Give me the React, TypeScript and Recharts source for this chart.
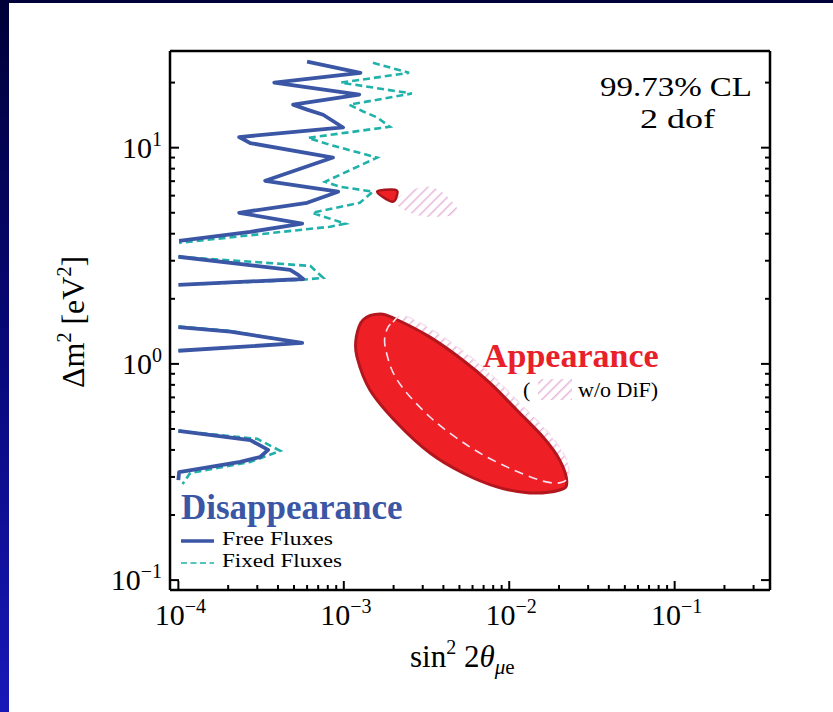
import React from 'react';
import { ScatterChart, Scatter, XAxis, YAxis } from 'recharts';

// sin^2(2theta), dm^2 pairs
const freeFluxUpper = [[6.0e-4, 25.0], [1.26e-3, 22.2], [3.8e-4, 20.0], [1.24e-3, 17.6], [4.94e-4, 15.8], [6.0e-4, 15.0], [7.5e-4, 14.2], [9.9e-4, 12.4], [2.33e-4, 11.2], [2.72e-4, 10.5], [8.6e-4, 9.0], [3.35e-4, 7.03], [9.24e-4, 6.26], [6.0e-4, 5.56], [2.33e-4, 5.0], [5.6e-4, 4.45], [2.72e-4, 4.08], [1.01e-4, 3.71]];
const freeFluxBand2 = [[1.0e-4, 3.13], [4.74e-4, 2.72], [5.3e-4, 2.58], [5.68e-4, 2.47], [1.0e-4, 2.32]];
const freeFluxBand3 = [[1.0e-4, 1.48], [2.06e-4, 1.41], [5.6e-4, 1.25], [1.0e-4, 1.15]];
const freeFluxBand4 = [[1.0e-4, 0.49], [2.72e-4, 0.444], [3.49e-4, 0.40], [3.12e-4, 0.371], [2.37e-4, 0.352], [1.01e-4, 0.316], [1.0e-4, 0.29]];

const fixedFluxUpper = [[1.5e-3, 24.7], [2.48e-3, 22.2], [9.6e-4, 20.0], [2.58e-3, 17.8], [1.08e-3, 15.8], [1.31e-3, 14.7], [1.59e-3, 13.8], [1.9e-3, 12.5], [6.09e-4, 11.1], [8.27e-4, 10.3], [1.59e-3, 9.0], [7.71e-4, 6.96], [9.5e-4, 6.6], [1.5e-3, 6.26], [1.25e-3, 5.56], [6.44e-4, 5.0], [1.02e-3, 4.45], [8.27e-4, 4.31], [1.01e-4, 3.63]];
const fixedFluxBand2 = [[1.0e-4, 3.13], [6.26e-4, 2.84], [7.5e-4, 2.5], [5.68e-4, 2.45], [1.0e-4, 2.32]];
const fixedFluxBand3 = [[1.0e-4, 1.49], [2.06e-4, 1.42], [5.5e-4, 1.25], [1.0e-4, 1.15]];
const fixedFluxBand4 = [[1.0e-4, 0.49], [3.0e-4, 0.45], [4.13e-4, 0.396], [2.72e-4, 0.352], [1.18e-4, 0.313], [1.06e-4, 0.278]];

const appearanceRegion = [[1.31e-3, 1.60], [1.66e-3, 1.70], [2.10e-3, 1.60], [3.32e-3, 1.33], [5.25e-3, 1.04], [7.64e-3, 0.817], [1.11e-2, 0.612], [1.60e-2, 0.459], [2.02e-2, 0.359], [2.23e-2, 0.284], [2.02e-2, 0.261], [1.33e-2, 0.253], [8.42e-3, 0.27], [5.25e-3, 0.313], [3.32e-3, 0.387], [2.10e-3, 0.533], [1.44e-3, 0.758], [1.20e-3, 1.08], [1.19e-3, 1.33]];
const appearanceIsland = [[1.59e-3, 6.26], [2.04e-3, 6.39], [2.10e-3, 6.06], [1.96e-3, 5.62]];
const noDifRegion = [[1.98e-3, 1.56], [2.31e-3, 1.67], [3.51e-3, 1.42], [5.55e-3, 1.11], [8.07e-3, 0.87], [1.17e-2, 0.653], [1.69e-2, 0.49], [2.17e-2, 0.375], [2.29e-2, 0.316], [2.11e-2, 0.284], [1.60e-2, 0.287], [9.67e-3, 0.334], [5.78e-3, 0.413], [3.32e-3, 0.568], [2.10e-3, 0.843], [1.78e-3, 1.2], [1.82e-3, 1.44]];
const noDifIsland = [[2.04e-3, 5.74], [3.01e-3, 6.6], [3.97e-3, 6.19], [4.9e-3, 5.0], [3.32e-3, 4.79], [2.44e-3, 5.06]];

const xDomain = [8.9e-5, 0.377];
const yDomain = [0.09, 28];
const xDecades = [1e-4, 1e-3, 1e-2, 1e-1];
const yDecades = [0.1, 1, 10];
const minorSteps = [1, 2, 3, 4, 5, 6, 7, 8, 9];

const SERIF = "'Liberation Serif', 'Times New Roman', serif";
const BLUE = '#3a56a5';
const TEAL = '#20b2aa';
const RED = '#ee2026';
const RED_EDGE = '#b3161d';
const PINK = '#e7b6db';

const buildTicks = (decades: number[], domain: number[]) =>
  decades
    .flatMap((d) => minorSteps.map((m) => m * d))
    .filter((v) => v >= domain[0] && v <= domain[1]);

const xTicks = buildTicks(xDecades, xDomain);
const yTicks = buildTicks(yDecades, yDomain);

const toPoints = (arr: number[][]) => arr.map(([x, y]) => ({ x, y }));

const isMajor = (v: number) => Math.abs(Math.log10(v) - Math.round(Math.log10(v))) < 1e-6;
const expLabel = (v: number) => {
  const e = Math.round(Math.log10(v));
  return e < 0 ? `\u2212${-e}` : `${e}`;
};

const straightPath = (pts: any[]) =>
  pts.map((p, i) => `${i ? 'L' : 'M'}${p.x},${p.y}`).join('');

// closed catmull-rom through the scaled points
const smoothClosedPath = (pts: any[]) => {
  const n = pts.length;
  if (!n) return '';
  let d = `M${pts[0].x},${pts[0].y}`;
  for (let i = 0; i < n; i++) {
    const p0 = pts[(i - 1 + n) % n];
    const p1 = pts[i];
    const p2 = pts[(i + 1) % n];
    const p3 = pts[(i + 2) % n];
    const c1x = p1.x + (p2.x - p0.x) / 6;
    const c1y = p1.y + (p2.y - p0.y) / 6;
    const c2x = p2.x - (p3.x - p1.x) / 6;
    const c2y = p2.y - (p3.y - p1.y) / 6;
    d += `C${c1x},${c1y} ${c2x},${c2y} ${p2.x},${p2.y}`;
  }
  return d + 'Z';
};

const contour = (style: any, smooth = false) => (props: any) => {
  const pts = props.points || [];
  const d = smooth ? smoothClosedPath(pts) : straightPath(pts);
  return <path d={d} {...style} />;
};

const NoDot = () => <g />;

const MAJOR_LEN = 9;
const MINOR_LEN = 5;

const BottomTick = (props: any) => {
  const { x, y, payload } = props;
  const major = isMajor(payload.value);
  return (
    <g>
      <line x1={x} x2={x} y1={y} y2={y - (major ? MAJOR_LEN : MINOR_LEN)} stroke="#000" strokeWidth={2} />
      {major && (
        <text x={x + 2} y={y + 35} textAnchor="middle" fontFamily={SERIF} fontSize={30} fill="#000">
          10<tspan dy={-12} fontSize={20}>{expLabel(payload.value)}</tspan>
        </text>
      )}
    </g>
  );
};

const TopTick = (props: any) => {
  const { x, y, payload } = props;
  const major = isMajor(payload.value);
  return <line x1={x} x2={x} y1={y} y2={y + (major ? MAJOR_LEN : MINOR_LEN)} stroke="#000" strokeWidth={2} />;
};

const LeftTick = (props: any) => {
  const { x, y, payload } = props;
  const major = isMajor(payload.value);
  return (
    <g>
      <line x1={x} x2={x + (major ? MAJOR_LEN : MINOR_LEN)} y1={y} y2={y} stroke="#000" strokeWidth={2} />
      {major && (
        <text x={x - 8} y={y + 10} textAnchor="end" fontFamily={SERIF} fontSize={30} fill="#000">
          10<tspan dy={-12} fontSize={20}>{expLabel(payload.value)}</tspan>
        </text>
      )}
    </g>
  );
};

const RightTick = (props: any) => {
  const { x, y, payload } = props;
  const major = isMajor(payload.value);
  return <line x1={x} x2={x - (major ? MAJOR_LEN : MINOR_LEN)} y1={y} y2={y} stroke="#000" strokeWidth={2} />;
};

const frameLine = { stroke: '#000', strokeWidth: 2.5 };

export default function App() {
  return (
    <div
      style={{
        position: 'absolute',
        left: 0,
        top: 0,
        width: 833,
        height: 712,
        overflow: 'hidden',
        background: 'linear-gradient(180deg, #000038 0%, #08087a 50%, #1818b8 100%)',
      }}
    >
      <div style={{ position: 'absolute', left: 9, top: 3, right: 0, bottom: 0, background: '#fff' }} />
      <div style={{ position: 'absolute', left: 0, top: 0 }}>
        <ScatterChart width={833} height={712} margin={{ top: 31, right: 43, bottom: 62, left: 10 }}>
          <defs>
            <pattern id="hatch" width="7" height="7" patternUnits="userSpaceOnUse" patternTransform="rotate(45)">
              <line x1="0" y1="0" x2="0" y2="7" stroke={PINK} strokeWidth={3} />
            </pattern>
          </defs>
          <XAxis
            xAxisId={0}
            type="number"
            dataKey="x"
            scale="log"
            domain={xDomain}
            allowDataOverflow
            ticks={xTicks}
            interval={0}
            height={60}
            tickSize={0}
            tickMargin={0}
            tickLine={false}
            axisLine={frameLine}
            tick={BottomTick}
          />
          <XAxis
            xAxisId="top"
            orientation="top"
            type="number"
            scale="log"
            domain={xDomain}
            allowDataOverflow
            ticks={xTicks}
            interval={0}
            height={20}
            tickSize={0}
            tickMargin={0}
            tickLine={false}
            axisLine={frameLine}
            tick={TopTick}
          />
          <YAxis
            yAxisId={0}
            type="number"
            dataKey="y"
            scale="log"
            domain={yDomain}
            allowDataOverflow
            ticks={yTicks}
            interval={0}
            width={160}
            tickSize={0}
            tickMargin={0}
            tickLine={false}
            axisLine={frameLine}
            tick={LeftTick}
          />
          <YAxis
            yAxisId="right"
            orientation="right"
            type="number"
            scale="log"
            domain={yDomain}
            allowDataOverflow
            ticks={yTicks}
            interval={0}
            width={20}
            tickSize={0}
            tickMargin={0}
            tickLine={false}
            axisLine={frameLine}
            tick={RightTick}
          />

          {/* appearance: w/o DiF hatched, then nominal filled */}
          <Scatter data={toPoints(noDifRegion)} shape={NoDot} isAnimationActive={false}
            line={contour({ fill: 'url(#hatch)', stroke: 'none' }, true)} />
          <Scatter data={toPoints(noDifIsland)} shape={NoDot} isAnimationActive={false}
            line={contour({ fill: 'url(#hatch)', stroke: 'none' }, true)} />
          <Scatter data={toPoints(appearanceRegion)} shape={NoDot} isAnimationActive={false}
            line={contour({ fill: RED, stroke: RED_EDGE, strokeWidth: 3, strokeLinejoin: 'round' }, true)} />
          <Scatter data={toPoints(appearanceIsland)} shape={NoDot} isAnimationActive={false}
            line={contour({ fill: RED, stroke: '#a8141b', strokeWidth: 2.5, strokeLinejoin: 'round' }, true)} />
          <Scatter data={toPoints(noDifRegion)} shape={NoDot} isAnimationActive={false}
            line={contour({ fill: 'none', stroke: '#f6e2ee', strokeWidth: 1.6, strokeDasharray: '9 6' }, true)} />

          {/* disappearance: fixed fluxes dashed, free fluxes solid */}
          {[fixedFluxUpper, fixedFluxBand2, fixedFluxBand3, fixedFluxBand4].map((d, i) => (
            <Scatter key={`fixed-${i}`} data={toPoints(d)} shape={NoDot} isAnimationActive={false}
              line={contour({ fill: 'none', stroke: TEAL, strokeWidth: 2.6, strokeDasharray: '7 4' })} />
          ))}
          {[freeFluxUpper, freeFluxBand2, freeFluxBand3, freeFluxBand4].map((d, i) => (
            <Scatter key={`free-${i}`} data={toPoints(d)} shape={NoDot} isAnimationActive={false}
              line={contour({ fill: 'none', stroke: BLUE, strokeWidth: 3.8, strokeLinejoin: 'round' })} />
          ))}
        </ScatterChart>
      </div>

      <svg width={833} height={712} style={{ position: 'absolute', left: 0, top: 0, pointerEvents: 'none' }}>
        <defs>
          <pattern id="hatchLegend" width="7" height="7" patternUnits="userSpaceOnUse" patternTransform="rotate(45)">
            <line x1="0" y1="0" x2="0" y2="7" stroke={PINK} strokeWidth={3} />
          </pattern>
        </defs>
        <g fontFamily={SERIF} fill="#000">
          <text x={600} y={96} fontSize={28} textLength={152} lengthAdjust="spacingAndGlyphs">99.73% CL</text>
          <text x={640} y={128} fontSize={28} textLength={75} lengthAdjust="spacingAndGlyphs">2 dof</text>

          <text x={483} y={367} fontSize={34} fontWeight="bold" fill="#e8202a">Appearance</text>
          <text x={523} y={397} fontSize={22}>(</text>
          <rect x={538} y={379} width={34} height={21} fill="url(#hatchLegend)" />
          <text x={578} y={397} fontSize={22}>w/o DiF)</text>

          <text x={181} y={519} fontSize={35} fontWeight="bold" fill={BLUE}>Disappearance</text>
          <line x1={181} x2={214} y1={541} y2={541} stroke={BLUE} strokeWidth={3.5} />
          <text x={222} y={545} fontSize={19} textLength={111} lengthAdjust="spacingAndGlyphs">Free Fluxes</text>
          <line x1={181} x2={214} y1={563} y2={563} stroke={TEAL} strokeWidth={1.6} strokeDasharray="6 3.5" />
          <text x={222} y={567} fontSize={19} textLength={120} lengthAdjust="spacingAndGlyphs">Fixed Fluxes</text>

          <text x={410} y={667} fontSize={31}>
            sin<tspan dy={-13} fontSize={20}>2</tspan>
            <tspan dy={13}> 2</tspan>
            <tspan fontStyle="italic">θ</tspan>
            <tspan dy={7} fontSize={21} fontStyle="italic">μ</tspan>
            <tspan fontSize={21}>e</tspan>
          </text>

          <text transform="translate(84,322) rotate(-90)" textAnchor="middle" fontSize={32}>
            Δm<tspan dy={-13} fontSize={20}>2</tspan>
            <tspan dy={13}> [eV</tspan>
            <tspan dy={-13} fontSize={20}>2</tspan>
            <tspan dy={13}>]</tspan>
          </text>
        </g>
      </svg>
    </div>
  );
}
